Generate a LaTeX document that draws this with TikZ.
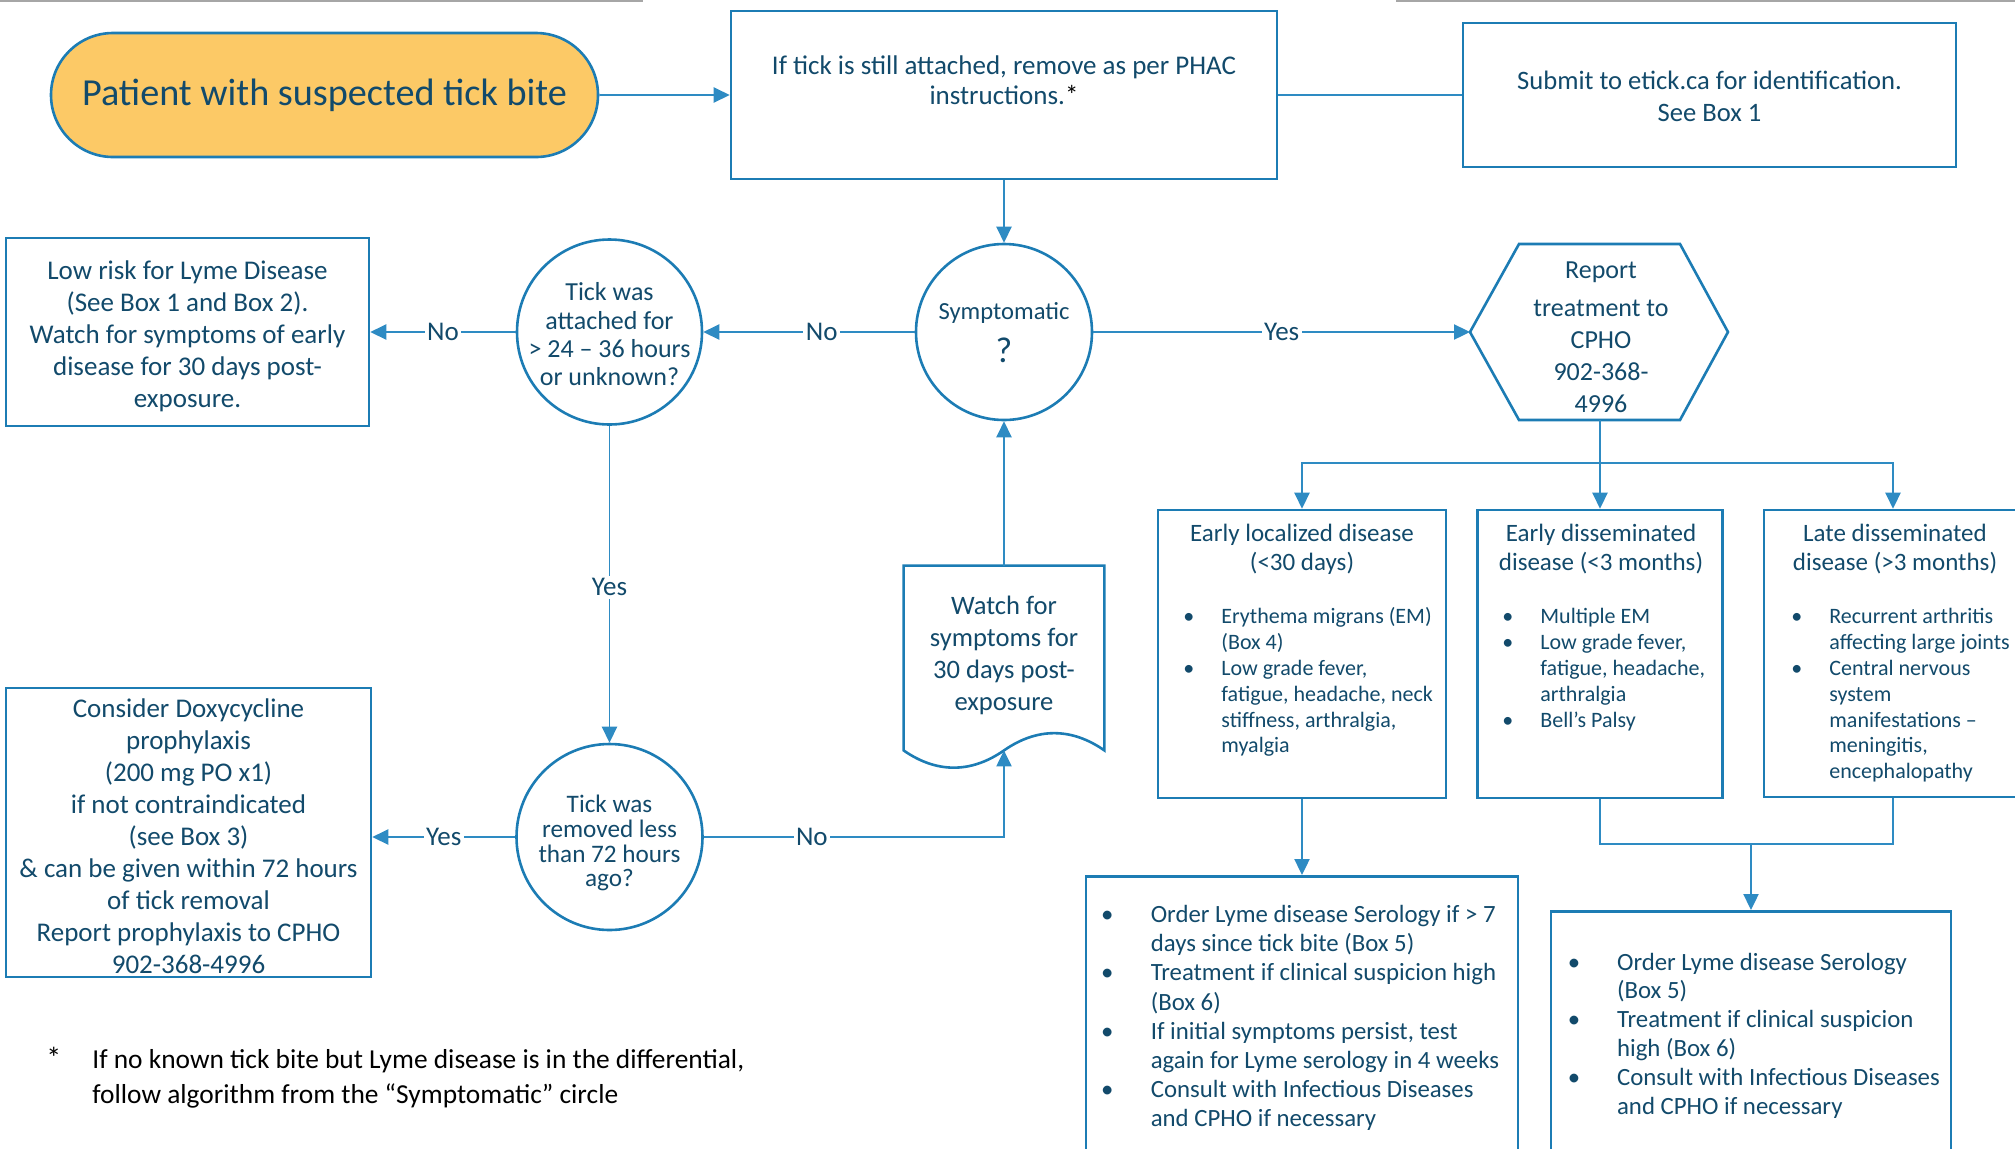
\documentclass[tikz,border=0pt]{standalone}
\usepackage{fontspec}
\setmainfont{Carlito}
\usetikzlibrary{arrows.meta,shapes.misc}
\definecolor{boxc}{HTML}{1C7CB4}
\definecolor{linec}{HTML}{2E8BC3}
\definecolor{txtc}{HTML}{124A6B}
\definecolor{pillfill}{HTML}{FCC966}
\definecolor{greyc}{HTML}{A6A6A6}
\newcommand\fs[2]{\fontsize{#1}{#2}\selectfont}
\newcommand\ctab[1]{\begin{tabular}{@{}c@{}}#1\end{tabular}}
\newcommand\btab[2]{\begin{tabular}{@{}p{#1}@{}l@{}}#2\end{tabular}}
\begin{document}
\begin{tikzpicture}[x=0.5pt,y=-0.5pt,
  box/.style={draw=boxc, line width=1.3pt, fill=white},
  conn/.style={draw=linec, line width=0.8pt, -{Triangle[length=8pt,width=7.6pt]}},
  plainconn/.style={draw=linec, line width=0.8pt},
  lbl/.style={fill=white, text=txtc, font=\fs{13.5}{16}, inner sep=1.2pt},
  txt/.style={text=txtc, inner sep=0pt, yshift=-1.25pt},
  bul/.style={text=txtc, inner sep=0pt, anchor=north west, yshift=-1.1pt}]
\useasboundingbox (0,0) rectangle (2015,1148);
\clip (0,0) rectangle (2015,1148);

% decorative top rules
\draw[greyc, line width=1pt] (0,1) -- (643,1);
\draw[greyc, line width=1pt] (1396,1) -- (2015,1);

% start terminal
\node[rounded rectangle, draw=boxc, line width=1.3pt, fill=pillfill, minimum width=273.5pt, minimum height=62pt, text=txtc, font=\fs{19.1}{22}, inner sep=0pt] (start) at (324.5,95) {Patient with suspected tick bite};

% remove box
\node[box, minimum width=273pt, minimum height=84pt] (remove) at (1004,95) {};
\node[txt, anchor=north, font=\fs{13.5}{15}] (removet) at (1004,50.3) {\ctab{If tick is still attached, remove as per PHAC\\instructions.{\color{black}*}}};

% submit box
\node[box, minimum width=246.5pt, minimum height=72pt] (submit) at (1709.5,95) {};
\node[txt, anchor=north, font=\fs{13.3}{16}] (submitt) at (1709.5,63.8) {\ctab{Submit to etick.ca for identification.\\See Box 1}};

% symptomatic
\node[circle, box, minimum size=88pt, inner sep=0pt] (symp) at (1004,332) {};
\node[txt, anchor=north, font=\fs{12.3}{14}] (sympt) at (1004,297) {\ctab{Symptomatic\\[5pt]{\fs{18}{20}?}}};

% tick attached
\node[circle, box, minimum size=92.5pt, inner sep=0pt] (tatt) at (609.5,332) {};
\node[txt, anchor=north, font=\fs{13}{14.15}] (tattt) at (609.5,278) {\ctab{Tick was\\attached for\\> 24 – 36 hours\\or unknown?}};

% low risk
\node[box, minimum width=181.5pt, minimum height=94pt] (low) at (187.5,332) {};
\node[txt, anchor=north, font=\fs{13.5}{16}] (lowt) at (187.5,254) {\ctab{Low risk for Lyme Disease\\(See Box 1 and Box 2).\\Watch for symptoms of early\\disease for 30 days post-\\exposure.}};

% hexagon
\coordinate (hexW) at (1470,332);
\coordinate (hexS) at (1600,420);
\draw[box] (hexW) -- (1519,244) -- (1680,244) -- (1728,332) -- (1680,420) -- (1519,420) -- cycle;
\node[txt, anchor=north, font=\fs{13}{16}] (hext) at (1601,253.6) {\ctab{Report\\[3pt]treatment to\\CPHO\\902-368-\\4996}};

% disease boxes
\coordinate (split) at (1600,463);
\node[box, minimum width=144pt, minimum height=144pt] (dA) at (1302,654) {};
\node[box, minimum width=122.5pt, minimum height=144pt] (dB) at (1600,654) {};
\node[box, minimum width=129pt, minimum height=143.5pt] (dC) at (1893,653.5) {};
\node[txt, anchor=north, font=\fs{12.5}{14.15}] (dAh) at (1302,519) {\ctab{Early localized disease\\(<30 days)}};
\node[txt, anchor=north, font=\fs{12.5}{14.15}] (dBh) at (1601,519) {\ctab{Early disseminated\\disease (<3 months)}};
\node[txt, anchor=north, font=\fs{12.5}{14.15}] (dCh) at (1895,519) {\ctab{Late disseminated\\disease (>3 months)}};
\node[bul, font=\fs{11}{12.95}] (dAb) at (1183,602.7) {\btab{19pt}{\textbullet & Erythema migrans (EM)\\ & (Box 4)\\ \textbullet & Low grade fever,\\ & fatigue, headache, neck\\ & stiffness, arthralgia,\\ & myalgia}};
\node[bul, font=\fs{11}{12.95}] (dBb) at (1502,602.7) {\btab{19pt}{\textbullet & Multiple EM\\ \textbullet & Low grade fever,\\ & fatigue, headache,\\ & arthralgia\\ \textbullet & Bell’s Palsy}};
\node[bul, font=\fs{11}{12.95}] (dCb) at (1791,602.7) {\btab{19pt}{\textbullet & Recurrent arthritis\\ & affecting large joints\\ \textbullet & Central nervous\\ & system\\ & manifestations –\\ & meningitis,\\ & encephalopathy}};

% order boxes
\node[box, minimum width=216pt, minimum height=144pt, anchor=north] (o1) at (1302,875) {};
\node[box, minimum width=200pt, minimum height=126pt, anchor=north] (o2) at (1751,910) {};
\node[bul, font=\fs{12.4}{14.57}] (o1t) at (1100.6,899.7) {\btab{24.9pt}{\textbullet & Order Lyme disease Serology if > 7\\ & days since tick bite (Box 5)\\ \textbullet & Treatment if clinical suspicion high\\ & (Box 6)\\ \textbullet & If initial symptoms persist, test\\ & again for Lyme serology in 4 weeks\\ \textbullet & Consult with Infectious Diseases\\ & and CPHO if necessary}};
\node[bul, font=\fs{12.4}{14.45}] (o2t) at (1567.5,947.2) {\btab{24.6pt}{\textbullet & Order Lyme disease Serology\\ & (Box 5)\\ \textbullet & Treatment if clinical suspicion\\ & high (Box 6)\\ \textbullet & Consult with Infectious Diseases\\ & and CPHO if necessary}};

% consider box
\node[box, minimum width=182.5pt, minimum height=144.5pt] (cons) at (188.5,832.5) {};
\node[txt, anchor=north, font=\fs{13.5}{16}] (const) at (188.5,692.2) {\ctab{Consider Doxycycline\\prophylaxis\\(200 mg PO x1)\\if not contraindicated\\(see Box 3)\\\& can be given within 72 hours\\of tick removal\\Report prophylaxis to CPHO\\902-368-4996}};

% tick removed
\node[circle, box, minimum size=93pt, inner sep=0pt] (trem) at (609.5,837) {};
\node[txt, anchor=north, font=\fs{12.6}{12.2}] (tremt) at (609.5,792.3) {\ctab{Tick was\\removed less\\than 72 hours\\ago?}};

% watch document
\node[minimum width=100pt, minimum height=92pt, inner sep=0pt] (watch) at (1004,658) {};
\draw[box] (watch.north west) -- (watch.north east) -- (watch.south east)
  .. controls +(-33,-23) and +(33,-23) .. (watch.south)
  .. controls +(-33,23) and +(33,23) .. (watch.south west) -- cycle;
\node[txt, anchor=north, font=\fs{13.3}{16}] (watcht) at (1004,588.8) {\ctab{Watch for\\symptoms for\\30 days post-\\exposure}};

% footnote
\node[anchor=north west, inner sep=0pt, text=black, font=\fs{13.7}{17.5}] (foot) at (46,1043.6) {\btab{23pt}{{\fs{15}{17.5}*} & If no known tick bite but Lyme disease is in the differential,\\ & follow algorithm from the “Symptomatic” circle}};

% connectors
\draw[conn] (start) -- (remove);
\draw[plainconn] (remove) -- (submit);
\draw[conn] (remove) -- (symp);
\draw[conn] (symp) -- node[lbl,pos=0.44]{No} (tatt);
\draw[conn] (tatt) -- node[lbl]{No} (low);
\draw[conn] (symp) -- node[lbl]{Yes} (hexW);
\draw[conn] (tatt) -- node[lbl,pos=0.51]{Yes} (trem);
\draw[conn] (trem.west) -- node[lbl]{Yes} (trem.west -| cons.east);
\draw[conn] (trem.east) -| node[lbl,pos=0.18]{No} (watch.south);
\draw[conn] (watch.north) -- (symp.south);
\draw[conn] (hexS) -- (dB.north);
\draw[conn] (split) -| (dA.north);
\draw[conn] (split) -| (dC.north);
\draw[conn] (dA.south) -- (o1.north);
\coordinate (join) at (1751,844);
\draw[plainconn] (dB.south) |- (join);
\draw[plainconn] (dC.south) |- (join);
\draw[conn] (join) -- (o2.north);
\end{tikzpicture}
\end{document}
